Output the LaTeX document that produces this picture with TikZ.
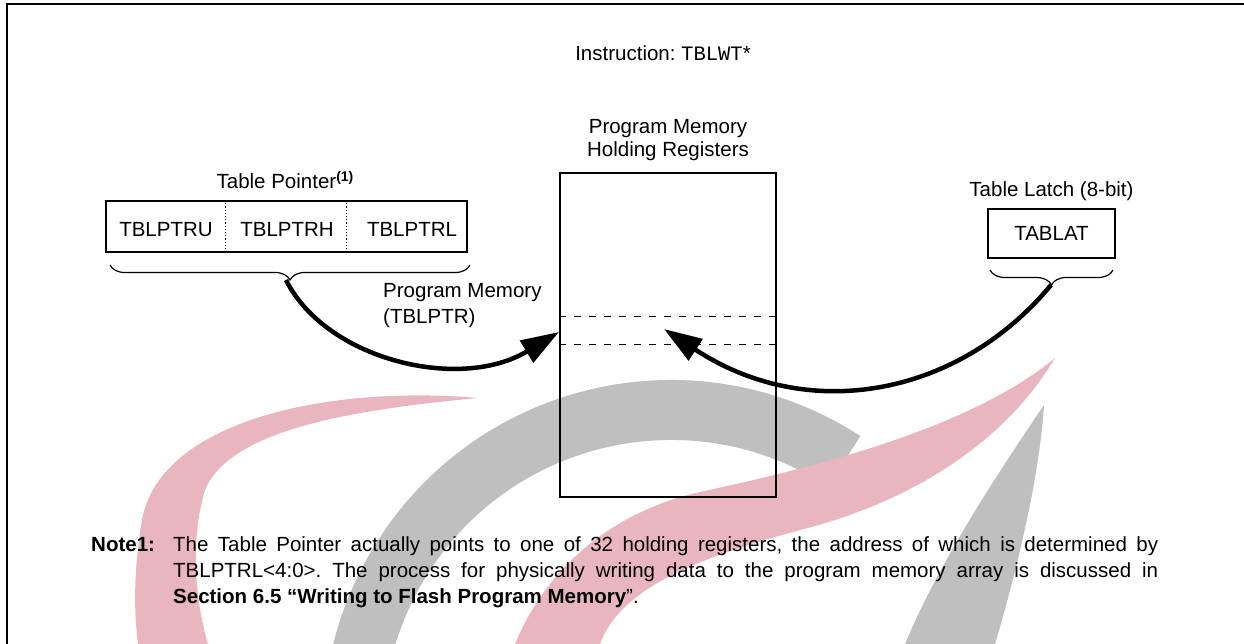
\documentclass[tikz,border=0pt]{standalone}
\usepackage{fontspec}
\setmainfont{Liberation Sans}
\setmonofont{Liberation Mono}
\usepackage{tikz}
\usetikzlibrary{arrows.meta,positioning,decorations.pathreplacing,calc}

\definecolor{wmpink}{RGB}{233,182,191}
\definecolor{wmgray}{RGB}{191,191,191}
\frenchspacing

\begin{document}
\begin{tikzpicture}[x=1pt,y=-1pt,
  every node/.style={font=\fontsize{20.5}{26}\selectfont, inner sep=0pt},
  lbl/.style={anchor=base},
  regbox/.style={draw, line width=2pt},
  divider/.style={dotted, line width=1.2pt},
  slot/.style={line width=1.4pt, dash pattern=on 7pt off 8pt},
  brc/.style={decorate, decoration={brace, mirror, amplitude=15pt}, line width=1.2pt},
  flow/.style={line width=4.5pt, -{Triangle[length=38pt,width=25pt]}}]
\useasboundingbox (0,0) rectangle (1244,644);

% watermark in the back
\draw[wmgray, line width=60pt] (671,728) ++(-57:318) arc[start angle=-57, end angle=-200, radius=318];
\fill[wmgray] (1044,405) .. controls (1000,470) and (940,560) .. (905,644) -- (995,644) .. controls (1020,560) and (1040,470) .. (1044,405) -- cycle;
\fill[wmpink] (478,398) .. controls (330,385) and (160,420) .. (142,520) .. controls (132,580) and (135,620) .. (138,644)
  -- (208,644) .. controls (195,600) and (190,540) .. (205,490) .. controls (230,430) and (350,410) .. (478,398) -- cycle;
\fill[wmpink] (515,644) .. controls (550,560) and (620,510) .. (700,492) .. controls (850,460) and (980,420) .. (1055,358)
  .. controls (1000,450) and (900,505) .. (800,530) .. controls (690,560) and (620,590) .. (600,644) -- cycle;

% frame
\draw[line width=2pt] (7,644) -- (7,4) -- (1244,4);

\node[lbl] (instr) at (663,61) {Instruction: \texttt{TBLWT}*};

% table pointer
\node[regbox, minimum width=361pt, minimum height=51pt] (tblptr) at (286,226.5) {};
\foreach \f in {1/3,2/3}
  \draw[divider] ($(tblptr.north west)!\f!(tblptr.north east)$) -- ($(tblptr.south west)!\f!(tblptr.south east)$);
\node[lbl] (ptru) at (166,237) {TBLPTRU};
\node[lbl] (ptrh) at (287,237) {TBLPTRH};
\node[lbl] (ptrl) at (412,237) {TBLPTRL};
\node[lbl] (ptrcap) at (285,189) {Table Pointer\raisebox{7.5pt}{\fontsize{14}{14}\selectfont\bfseries(1)}};

% holding registers
\node[regbox, minimum width=216pt, minimum height=324pt] (hold) at (668,335) {};
\node[align=center, font=\fontsize{20.5}{23.3}\selectfont, above=11pt of hold] (holdcap) {Program Memory\\Holding Registers};
\draw[slot] ($(hold.north west)+(0,144.5)$) -- ($(hold.north east)+(0,144.5)$);
\draw[slot] ($(hold.north west)+(0,172.5)$) -- ($(hold.north east)+(0,172.5)$);

% table latch
\node[regbox, minimum width=127pt, minimum height=49pt] (tablat) at (1051.5,233.5) {TABLAT};
\node[above=7.5pt of tablat] (latchcap) {Table Latch (8-bit)};

% braces
\coordinate (ptrbl) at (110,265);
\coordinate (ptrbr) at (470,265);
\coordinate (latbl) at (990,270);
\coordinate (latbr) at (1113,270);
\draw[brc] (ptrbl) -- (ptrbr);
\draw[brc] (latbl) -- (latbr);
\coordinate (ptrtip) at (286,280);
\coordinate (lattip) at (1051,285);
\coordinate (holdin) at (559,332);
\coordinate (holdslot) at (664,329);

\node[anchor=base west, align=left] (pmlbl) at (383,323) {Program Memory\\(TBLPTR)};

\draw[flow] (ptrtip) .. controls (326,360) and (460,392) .. (holdin);
\draw[flow] (lattip) .. controls (960,395) and (810,425) .. (holdslot);

% note
\node[anchor=base west] (notelbl) at (91,551) {\textbf{Note1:}};
\node[anchor=base west, text width=985pt, align=justify] (notetxt) at (173,551)
  {The Table Pointer actually points to one of 32 holding registers, the address of which is determined by\linebreak
   TBLPTRL<4:0>. The process for physically writing data to the program memory array is discussed in\linebreak
   \textbf{Section 6.5 “Writing to Flash Program Memory}”.};
\end{tikzpicture}
\end{document}
